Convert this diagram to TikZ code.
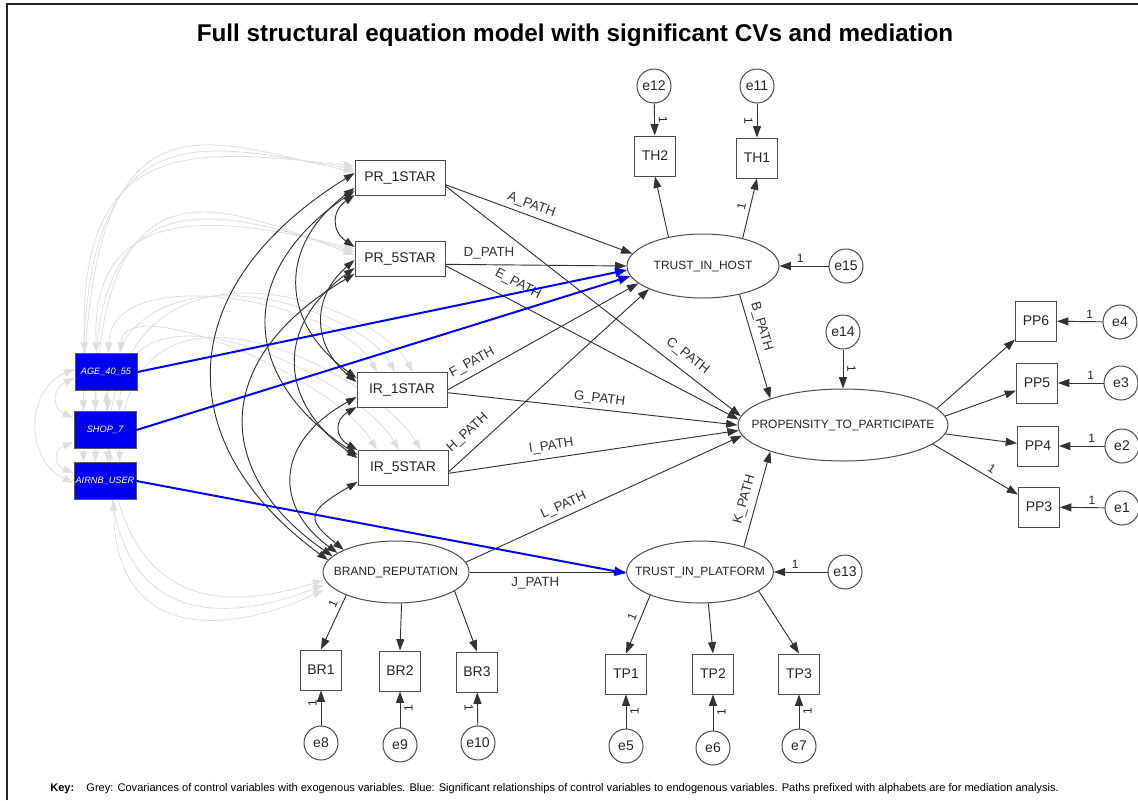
\documentclass[tikz,border=0pt]{standalone}
\usepackage{fontspec}
\setmainfont{Liberation Sans}
\usetikzlibrary{arrows.meta,shapes.geometric,calc}
\pgfdeclarelayer{bg}
\pgfsetlayers{bg,main}
\begin{document}
\begin{tikzpicture}[x=0.75pt,y=-0.75pt,
  obs/.style={draw=black!70, fill=white, line width=0.75pt, rectangle, inner sep=0pt,
    minimum width=30.75pt, minimum height=30pt, font=\fontsize{10.5}{12}\selectfont, text=black!85},
  exo/.style={obs, minimum width=67.5pt, minimum height=26.25pt},
  lat/.style={draw=black!70, fill=white, line width=0.75pt, ellipse, inner sep=0pt,
    font=\fontsize{9}{11}\selectfont, text=black!85},
  err/.style={draw=black!70, fill=white, line width=0.75pt, circle, inner sep=0pt,
    minimum size=25.5pt, font=\fontsize{10.5}{12}\selectfont, text=black!85},
  ctrl/.style={draw=black!65, line width=0.75pt, fill={rgb,255:red,0;green,0;blue,240},
    rectangle, inner sep=0pt, minimum width=46.5pt, minimum height=27.75pt,
    font=\fontsize{6.9}{8}\selectfont\itshape, text=white},
  arr/.style={draw=black!80, line width=0.7pt, -{Triangle[length=8.5pt,width=6pt]}},
  cov/.style={draw=black!80, line width=0.7pt,
    {Triangle[length=8pt,width=5.5pt]}-{Triangle[length=8pt,width=5.5pt]}},
  gcov/.style={draw=black!13, line width=0.6pt,
    {Triangle[length=8pt,width=5.5pt]}-{Triangle[length=8pt,width=5.5pt]}},
  blu/.style={draw={rgb,255:red,0;green,0;blue,255}, line width=1.5pt,
    -{Triangle[length=9pt,width=6.5pt]}},
  pl/.style={font=\fontsize{10}{12}\selectfont, text=black!80, inner sep=0pt, sloped},
  one/.style={font=\fontsize{9}{10}\selectfont, text=black!85, inner sep=0pt},
]
\useasboundingbox (0,0) rectangle (1138,800);

% frame
\draw[line width=1.1pt, black!85] (7,800) -- (7,4) -- (1138,4);

% title and key
\node[font=\fontsize{18.2}{22}\selectfont\bfseries] (title) at (575,35)
  {Full structural equation model with significant CVs and mediation};
\node[anchor=west, font=\fontsize{8.3}{10}\selectfont, inner sep=0pt] (key) at (50,789)
  {\textbf{Key:}\hspace{1.1em}Grey: Covariances of control variables with exogenous variables. Blue: Significant relationships of control variables to endogenous variables. Paths prefixed with alphabets are for mediation analysis.};

% exogenous observed variables
\node[exo] (PR1) at (400,178) {PR\_1STAR};
\node[exo] (PR5) at (400,259) {PR\_5STAR};
\node[exo] (IR1) at (402,390) {IR\_1STAR};
\node[exo] (IR5) at (403,468) {IR\_5STAR};

% latent variables
\node[lat, minimum width=114pt, minimum height=48pt] (TIH) at (703,266) {\makebox[0pt]{TRUST\_IN\_HOST}};
\node[lat, minimum width=157.5pt, minimum height=54pt] (PROP) at (843,425) {\makebox[0pt]{PROPENSITY\_TO\_PARTICIPATE}};
\node[lat, minimum width=109.5pt, minimum height=46.5pt] (BR) at (396,572) {\makebox[0pt]{BRAND\_REPUTATION}};
\node[lat, minimum width=110pt, minimum height=46.5pt] (TIP) at (700,572) {\makebox[0pt]{TRUST\_IN\_PLATFORM}};

% indicators and error terms
\node[obs] (TH2) at (655,156) {TH2};
\node[obs] (TH1) at (757,158) {TH1};
\node[err] (e12) at (654,86) {e12};
\node[err] (e11) at (757,86) {e11};
\node[err] (e15) at (846,266) {e15};
\node[err] (e14) at (843,332) {e14};
\node[obs] (PP6) at (1036,321) {PP6};
\node[obs] (PP5) at (1037,383) {PP5};
\node[obs] (PP4) at (1038,446) {PP4};
\node[obs] (PP3) at (1039,507) {PP3};
\node[err] (e4) at (1120,322) {e4};
\node[err] (e3) at (1121,383) {e3};
\node[err] (e2) at (1122,446) {e2};
\node[err] (e1) at (1122,508) {e1};
\node[obs] (BR1) at (321,670) {BR1};
\node[obs] (BR2) at (400,671) {BR2};
\node[obs] (BR3) at (477,672) {BR3};
\node[err] (e8) at (321,743) {e8};
\node[err] (e9) at (400,745) {e9};
\node[err] (e10) at (478,743) {e10};
\node[obs] (TP1) at (626,674) {TP1};
\node[obs] (TP2) at (713,674) {TP2};
\node[obs] (TP3) at (799,674) {TP3};
\node[err] (e5) at (626,746) {e5};
\node[err] (e6) at (713,748) {e6};
\node[err] (e7) at (799,746) {e7};
\node[err] (e13) at (845,572) {e13};

% control variables
\node[ctrl] (AGE) at (106,372) {AGE\_40\_55};
\node[ctrl] (SHOP) at (105,430) {SHOP\_7};
\node[ctrl] (AIR) at (105,481) {AIRNB\_USER};

\begin{pgfonlayer}{bg}
  % grey covariances: control variables with exogenous variables
  \foreach \c/\i in {AGE/0,SHOP/1,AIR/2}{
    \pgfmathsetmacro\pa{130-30*\i}
    \pgfmathsetmacro\pb{150-5*\i}
    \pgfmathsetmacro\pe{-12+3*\i}
    \draw[gcov] ($(\c.north west)+(10,0)$) .. controls (78,\pa) and (200,\pb) .. ($(PR1.west)+(0,\pe)$);
    \pgfmathsetmacro\qa{200-30*\i}
    \pgfmathsetmacro\qb{215-5*\i}
    \pgfmathsetmacro\qe{-10+3*\i}
    \draw[gcov] ($(\c.north west)+(22,0)$) .. controls (90,\qa) and (220,\qb) .. ($(PR5.west)+(0,\qe)$);
    \pgfmathsetmacro\ra{260-25*\i}
    \pgfmathsetmacro\rx{337+18*\i}
    \pgfmathsetmacro\re{-25+18*\i}
    \draw[gcov] ($(\c.north west)+(34,0)$) .. controls (112,\ra) and (\rx,300) .. ($(IR1.north)+(\re,0)$);
    \pgfmathsetmacro\sa{290-25*\i}
    \pgfmathsetmacro\sx{332+22*\i}
    \pgfmathsetmacro\se{-26+22*\i}
    \draw[gcov] ($(\c.north west)+(46,0)$) .. controls (124,\sa) and (\sx,375) .. ($(IR5.north)+(\se,0)$);
    \pgfmathsetmacro\ta{620+12*\i}
    \pgfmathsetmacro\tb{610+12*\i}
    \pgfmathsetmacro\tx{107+4*\i}
    \pgfmathsetmacro\te{8+5*\i}
    \draw[gcov] ($(\c.south west)+(32+4*\i,0)$) .. controls (\tx,\ta) and (230,\tb) .. ($(BR.west)+(1,\te)$);
  }
  % grey covariances among control variables
  \draw[gcov] ($(AGE.west)+(0,6)$) .. controls +(-22,10) and +(-22,-10) .. ($(SHOP.west)+(0,-12)$);
  \draw[gcov] ($(SHOP.west)+(0,12)$) .. controls +(-20,8) and +(-20,-8) .. ($(AIR.west)+(0,-8)$);
  \draw[gcov] ($(AGE.west)+(0,-3)$) .. controls (25,390) and (25,460) .. ($(AIR.west)+(0,2)$);

  % covariances among exogenous variables
  \draw[cov] ($(PR1.west)+(0,17)$) .. controls +(-23,16) and +(-23,-16) .. ($(PR5.west)+(0,-12)$);
  \draw[cov] ($(PR1.west)+(0,10)$) .. controls +(-76,57) and +(-78,-57) .. ($(IR1.west)+(0,-12)$);
  \draw[cov] ($(PR1.west)+(0,13)$) .. controls +(-117,79) and +(-120,-79) .. ($(IR5.west)+(0,-13)$);
  \draw[cov] ($(PR1.west)+(0,-5)$) .. controls +(-185,115) and +(-158,-115) .. (BR.170);
  \draw[cov] ($(PR5.west)+(0,1)$) .. controls +(-43,37) and +(-45,-37) .. ($(IR1.west)+(0,-8)$);
  \draw[cov] ($(PR5.west)+(0,9)$) .. controls +(-78,57) and +(-81,-57) .. ($(IR5.west)+(0,-10)$);
  \draw[cov] ($(PR5.west)+(0,15)$) .. controls +(-143,84) and +(-121,-84) .. (BR.166);
  \draw[cov] ($(IR1.west)+(0,17)$) .. controls +(-22,13) and +(-23,-13) .. ($(IR5.west)+(0,-18)$);
  \draw[cov] ($(IR1.west)+(0,7)$) .. controls +(-83,46) and +(-63,-46) .. (BR.162);
  \draw[cov] ($(IR5.west)+(0,14)$) .. controls +(-52,30) and +(-37,-30) .. (BR.157);
\end{pgfonlayer}

% measurement model: trust in host
\draw[arr] (TIH.140) -- (TH2.south);
\draw[arr] (TIH.35) -- node[one, sloped, above=3pt, pos=0.5] {1} (TH1.south);
\draw[arr] (e12) -- node[one, sloped, above=3pt] {1} (TH2);
\draw[arr] (e11) -- node[one, sloped, below=3pt] {1} (TH1);
\draw[arr] (e15) -- node[one, above=2pt, pos=0.58] {1} (TIH.east);

% measurement model: propensity to participate
\draw[arr] (e14) -- node[one, sloped, above=3pt, pos=0.5] {1} (PROP.north);
\draw[arr] (PROP.10) -- (PP6);
\draw[arr] (PROP.5) -- (PP5);
\draw[arr] (PROP.-5) -- (PP4);
\draw[arr] (PROP.-12) -- node[one, sloped, above=3pt, pos=0.64] {1} (PP3);
\draw[arr] (e4) -- node[one, above=2pt, pos=0.28] {1} (PP6);
\draw[arr] (e3) -- node[one, above=2pt, pos=0.28] {1} (PP5);
\draw[arr] (e2) -- node[one, above=2pt, pos=0.28] {1} (PP4);
\draw[arr] (e1) -- node[one, above=2pt, pos=0.28] {1} (PP3);

% measurement model: brand reputation
\draw[arr] (BR.205) -- node[one, sloped, above=3pt, pos=0.22] {1} (BR1.north);
\draw[arr] (BR.-80) -- (BR2.north);
\draw[arr] (BR.-18) -- (BR3.north);
\draw[arr] (e8) -- node[one, sloped, above=3pt, pos=0.65] {1} (BR1);
\draw[arr] (e9) -- node[one, sloped, below=3pt, pos=0.55] {1} (BR2);
\draw[arr] (e10) -- node[one, sloped, below=3pt, pos=0.55] {1} (BR3);

% measurement model: trust in platform
\draw[arr] (TIP.205) -- node[one, sloped, above=3pt, pos=0.42] {1} (TP1.north);
\draw[arr] (TIP.-75) -- (TP2.north);
\draw[arr] (TIP.-18) -- (TP3.north);
\draw[arr] (e5) -- node[one, sloped, below=3pt] {1} (TP1);
\draw[arr] (e6) -- node[one, sloped, below=3pt] {1} (TP2);
\draw[arr] (e7) -- node[one, sloped, below=3pt] {1} (TP3);
\draw[arr] (e13) -- node[one, above=2pt, pos=0.6] {1} (TIP.east);

% structural paths
\draw[arr] ([yshift=-5pt]PR1.east) -- node[pl, above=3pt, pos=0.44] {A\_PATH} (TIH.170);
\draw[arr] ([yshift=-6pt]PR1.east) -- node[pl, above=6pt, pos=0.79] {C\_PATH} (PROP.175);
\draw[arr] ([yshift=-4pt]PR5.east) -- node[pl, above=4pt, pos=0.24] {D\_PATH} (TIH.west);
\draw[arr] ([yshift=-5pt]PR5.east) -- node[pl, above=8pt, pos=0.22] {E\_PATH} (PROP.177);
\draw[arr] (IR1.east) -- node[pl, above=4pt, pos=0.16] {F\_PATH} (TIH.195);
\draw[arr] ([yshift=-2pt]IR1.east) -- node[pl, above=3pt, pos=0.52] {G\_PATH} (PROP.180);
\draw[arr] ([yshift=-3pt]IR5.east) -- node[pl, above=7pt, pos=0.15] {H\_PATH} (TIH.203);
\draw[arr] ([yshift=-4pt]IR5.east) -- node[pl, above=4pt, pos=0.36] {I\_PATH} (PROP.183);
\draw[arr] (TIH.-38) -- node[pl, above=4pt, pos=0.34] {B\_PATH} (PROP.160);
\draw[arr] (TIP.30) -- node[pl, above=4pt, pos=0.46] {K\_PATH} (PROP.200);
\draw[arr] (BR.8) -- node[pl, above=3pt, pos=0.37] {L\_PATH} (PROP.186);
\draw[arr] (BR.east) -- node[pl, below=4pt, pos=0.42] {J\_PATH} (TIP.west);

% significant control-variable effects
\draw[blu] (AGE.east) -- (TIH.183);
\draw[blu] (SHOP.east) -- (TIH.188);
\draw[blu] (AIR.east) -- (TIP.181);
\end{tikzpicture}
\end{document}
